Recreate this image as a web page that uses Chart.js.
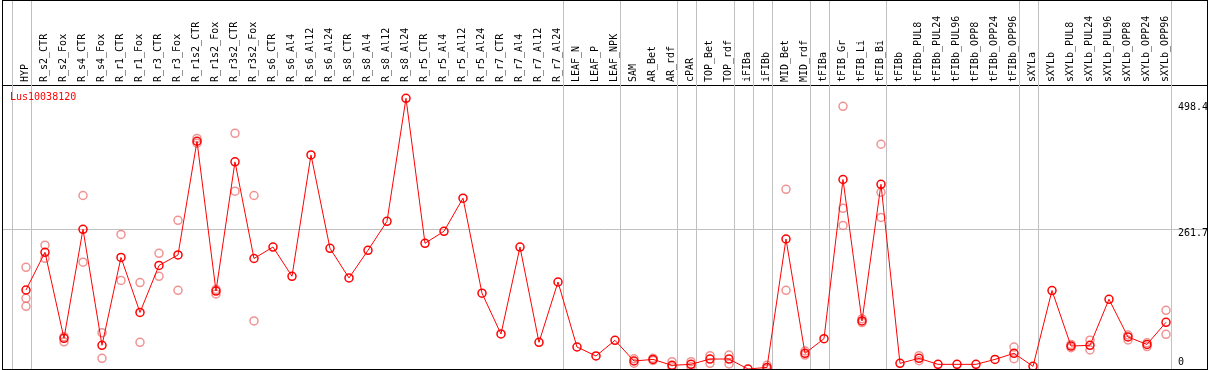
<!DOCTYPE html>
<html>
<head>
<meta charset="utf-8">
<script src="https://cdn.jsdelivr.net/npm/chart.js@4"></script>
<style>
  body { margin: 0; background: #fff; }
  #wrap { width: 1209px; height: 370px; }
</style>
</head>
<body>
<div id="wrap"><canvas id="chart"></canvas></div>
<script>
// sample names along the top
const categories = [
  'HYP', 'R_s2_CTR', 'R_s2_Fox', 'R_s4_CTR', 'R_s4_Fox', 'R_r1_CTR', 'R_r1_Fox', 'R_r3_CTR', 'R_r3_Fox',
  'R_r1s2_CTR', 'R_r1s2_Fox', 'R_r3s2_CTR', 'R_r3s2_Fox', 'R_s6_CTR', 'R_s6_Al4', 'R_s6_Al12', 'R_s6_Al24',
  'R_s8_CTR', 'R_s8_Al4', 'R_s8_Al12', 'R_s8_Al24', 'R_r5_CTR', 'R_r5_Al4', 'R_r5_Al12', 'R_r5_Al24',
  'R_r7_CTR', 'R_r7_Al4', 'R_r7_Al12', 'R_r7_Al24', 'LEAF_N', 'LEAF_P', 'LEAF_NPK', 'SAM', 'AR_Bet', 'AR_rdf',
  'cPAR', 'TOP_Bet', 'TOP_rdf', 'iFIBa', 'iFIBb', 'MID_Bet', 'MID_rdf', 'tFIBa', 'tFIB_Gr', 'tFIB_Li', 'tFIB_Bi',
  'tFIBb', 'tFIBb_PUL8', 'tFIBb_PUL24', 'tFIBb_PUL96', 'tFIBb_OPP8', 'tFIBb_OPP24', 'tFIBb_OPP96',
  'sXYLa', 'sXYLb', 'sXYLb_PUL8', 'sXYLb_PUL24', 'sXYLb_PUL96', 'sXYLb_OPP8', 'sXYLb_OPP24', 'sXYLb_OPP96'
];

// mean expression per sample
const meanValues = [
  148, 218.6, 57.5, 261.7, 44.4, 209, 106, 194, 213.6,
  426.6, 146, 388, 207, 228.5, 173.7, 401, 226,
  170.5, 222.4, 276.7, 507, 235.5, 258, 320, 142,
  65.6, 228.5, 50, 163, 41.2, 24.4, 53.7, 15, 18, 6.9,
  8.7, 18.7, 18.7, 0, 3, 243.5, 29.4, 56.8, 355, 90, 346,
  10.6, 20, 8.7, 8.7, 8.7, 18, 29.4,
  5, 147, 43, 44.4, 130.6, 60, 46, 87.5
];

// replicate values (null = no replicate shown)
const repA = [
  190.5, 232, 60.5, 325, 68, 252, 162, 216.7, 278.5,
  432, 149, 441.5, 325, null, null, null, null,
  null, null, null, null, null, null, null, null,
  null, null, null, null, null, null, null, 19, 20, 13.7,
  13.7, 25, 26, null, 6.9, 336.6, 33.7, null, 492, 94, 421,
  null, 25, null, null, null, null, 41,
  null, null, 46, 54, null, 63.7, 49, 110
];
const repB = [
  132.4, 207.4, 51, 200, 20, 166, 50, 173.7, 147.4,
  423, 140.5, 333, 90, null, null, null, null,
  null, null, null, null, null, null, null, null,
  null, null, null, null, null, null, null, 11, 16, 4.3,
  4.3, 10.6, 9.4, null, 0, 147.4, 26, null, 301, 87, 331,
  null, 15.6, null, null, null, null, 19.3,
  null, null, 40, 35.6, null, 54.3, 42, 65
];
const repC = [
  117.5, null, null, null, null, null, null, null, null,
  null, null, null, null, null, null, null, null,
  null, null, null, null, null, null, null, null,
  null, null, null, null, null, null, null, null, null, null,
  null, null, null, null, null, null, null, null, 269, null, 284,
  null, null, null, null, null, null, null,
  null, null, null, null, null, null, null, null
];

// last sample of each group (vertical separators); -1 = start
const groupEnds = [-1, 0, 28, 31, 34, 35, 37, 38, 39, 41, 42, 45, 52, 53, 60];

const yTicks = [0, 261.7, 498.4];
const geneName = 'Lus10038120';

const monoFont = 'DejaVu Sans Mono';

function toPoints(arr) {
  const pts = [];
  arr.forEach((v, i) => { if (v !== null) pts.push({ x: i, y: v }); });
  return pts;
}

function repDataset(arr) {
  return {
    data: toPoints(arr),
    showLine: false,
    pointRadius: 4,
    pointBorderWidth: 1.5,
    pointBorderColor: 'rgba(235,110,110,0.75)',
    pointBackgroundColor: 'transparent',
    order: 2
  };
}

// separators, labels, title and frame
const decorPlugin = {
  id: 'decor',
  beforeDatasetsDraw(chart) {
    const ctx = chart.ctx;
    const xs = chart.scales.x;
    const area = chart.chartArea;
    ctx.save();
    ctx.strokeStyle = '#c0c0c0';
    ctx.lineWidth = 1;
    groupEnds.forEach(g => {
      const px = Math.round(xs.getPixelForValue(g + 0.24)) + 0.5;
      ctx.beginPath();
      ctx.moveTo(px, 0);
      ctx.lineTo(px, area.bottom);
      ctx.stroke();
    });
    ctx.restore();
  },
  afterDraw(chart) {
    const ctx = chart.ctx;
    const ys = chart.scales.y;
    const area = chart.chartArea;
    ctx.save();
    ctx.font = '10px "' + monoFont + '"';
    ctx.fillStyle = '#000';
    ctx.textAlign = 'left';
    ctx.textBaseline = 'middle';
    yTicks.forEach(t => {
      const py = Math.min(ys.getPixelForValue(t) + 4, area.bottom - 7);
      ctx.fillText(String(t), area.right - 29, py);
    });
    ctx.fillStyle = '#ff0000';
    ctx.fillText(geneName, area.left + 8, area.top + 12);
    ctx.strokeStyle = '#000';
    ctx.lineWidth = 1;
    ctx.strokeRect(2.5, 0.5, area.right - 2, area.bottom);
    ctx.restore();
  }
};

new Chart(document.getElementById('chart'), {
  type: 'line',
  data: {
    datasets: [
      {
        data: toPoints(meanValues),
        borderColor: '#ff0000',
        borderWidth: 1,
        tension: 0,
        pointRadius: 4,
        pointBorderWidth: 1.5,
        pointBorderColor: '#ff0000',
        pointBackgroundColor: 'transparent',
        order: 0
      },
      repDataset(repA),
      repDataset(repB),
      repDataset(repC)
    ]
  },
  options: {
    responsive: true,
    maintainAspectRatio: false,
    animation: false,
    layout: { autoPadding: false, padding: { left: 2, right: 2, top: 0, bottom: 1 } },
    plugins: {
      legend: { display: false },
      tooltip: { enabled: false }
    },
    scales: {
      x: {
        type: 'linear',
        position: 'top',
        min: -1.263,
        max: 62.158,
        afterBuildTicks: s => { s.ticks = categories.map((c, i) => ({ value: i })); },
        afterFit: s => { s.height = 85; s.paddingLeft = 0; s.paddingRight = 0; },
        ticks: {
          autoSkip: false,
          minRotation: 90,
          maxRotation: 90,
          padding: 3,
          labelOffset: 11,
          color: '#000',
          font: { family: monoFont, size: 10 },
          callback: v => categories[v]
        },
        grid: { display: false, drawTicks: false },
        border: { display: true, color: '#000', width: 1 }
      },
      y: {
        type: 'linear',
        position: 'right',
        min: 0,
        max: 532,
        afterBuildTicks: s => { s.ticks = yTicks.map(v => ({ value: v })); },
        afterFit: s => { s.width = 0; },
        ticks: { display: false },
        grid: {
          drawTicks: false,
          color: c => (c.tick && c.tick.value === 261.7 ? '#c0c0c0' : 'rgba(0,0,0,0)')
        },
        border: { display: false }
      }
    }
  },
  plugins: [decorPlugin]
});
</script>
</body>
</html>
